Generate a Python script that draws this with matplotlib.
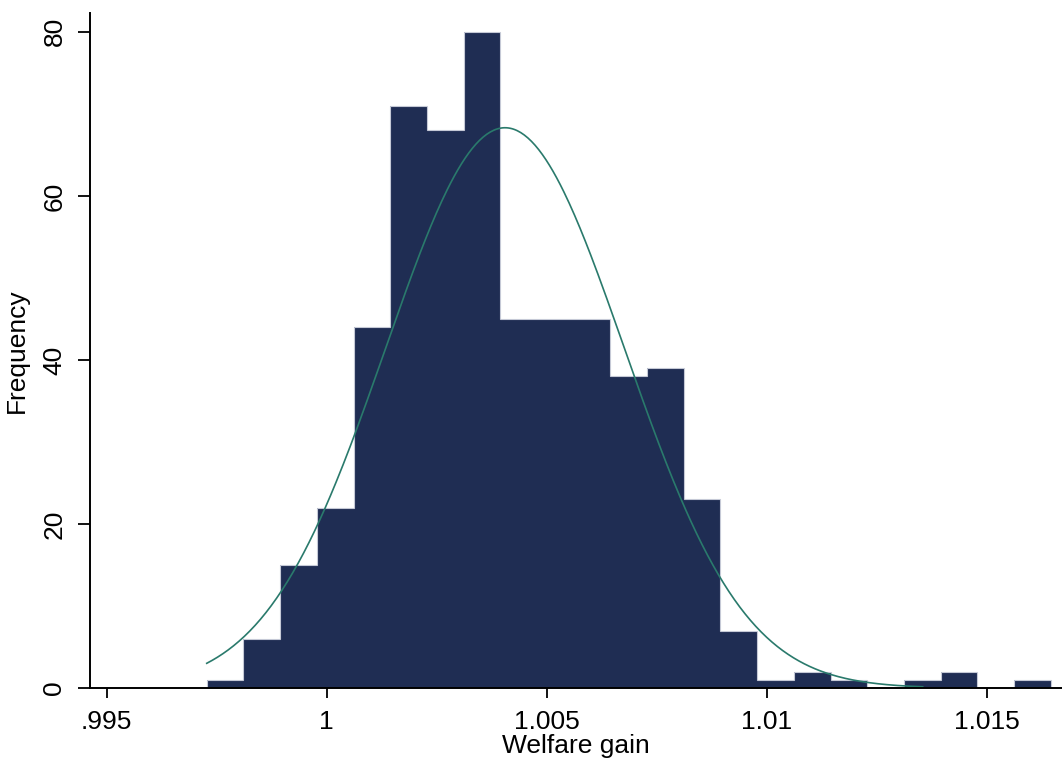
import numpy as np
import matplotlib
matplotlib.use('Agg')
import matplotlib.pyplot as plt

plt.rcParams['font.family'] = ['Liberation Sans', 'DejaVu Sans']
plt.rcParams['font.size'] = 19

# histogram bins (left edge of first bin, bin width) and counts
bin_start = 0.997273
bin_width = 0.000834
counts = [1, 6, 15, 22, 44, 71, 68, 80, 45, 45, 45, 38, 39, 23, 7,
          1, 2, 1, 0, 1, 2, 0, 1]

# normal density overlay
mu = 1.004052
sigma = 0.002713
curve_lo, curve_hi = 0.997273, 1.013545

xticks = [0.995, 1.0, 1.005, 1.01, 1.015]
xticklabels = ['.995', '1', '1.005', '1.01', '1.015']
yticks = [0, 20, 40, 60, 80]

edges = bin_start + bin_width * np.arange(len(counts) + 1)
n = sum(counts)

fig = plt.figure(figsize=(10.62, 7.67), dpi=100)
ax = fig.add_axes([90/1062, 79/767, 972/1062, 675/767])

ax.bar(edges[:-1], counts, width=bin_width, align='edge',
       color='#1f2d53', edgecolor='none', linewidth=0)
# light outline only along the outer envelope of the bars
ax.stairs(counts, edges, color='#c5c9d6', linewidth=0.8)

xs = np.linspace(curve_lo, curve_hi, 400)
ys = n * bin_width * np.exp(-0.5 * ((xs - mu) / sigma) ** 2) / (sigma * np.sqrt(2 * np.pi))
ax.plot(xs, ys, color='#2a7a6c', linewidth=1.2)

ax.set_xlim(0.99462, 1.016711)
ax.set_ylim(0, 82.3)
ax.set_xticks(xticks)
ax.set_xticklabels(xticklabels)
ax.set_yticks(yticks)
for lab in ax.get_yticklabels():
    lab.set_rotation(90)
    lab.set_va('center')

ax.spines['top'].set_visible(False)
ax.spines['right'].set_visible(False)
ax.spines['left'].set_linewidth(1.4)
ax.spines['bottom'].set_linewidth(1.4)
ax.tick_params(axis='y', length=9, width=1.3, pad=8)
ax.tick_params(axis='x', length=7, width=1.3, pad=9)

ax.set_xlabel('Welfare gain', labelpad=0)
ax.set_ylabel('Frequency', labelpad=10)

plt.savefig('out.png', dpi=100)
